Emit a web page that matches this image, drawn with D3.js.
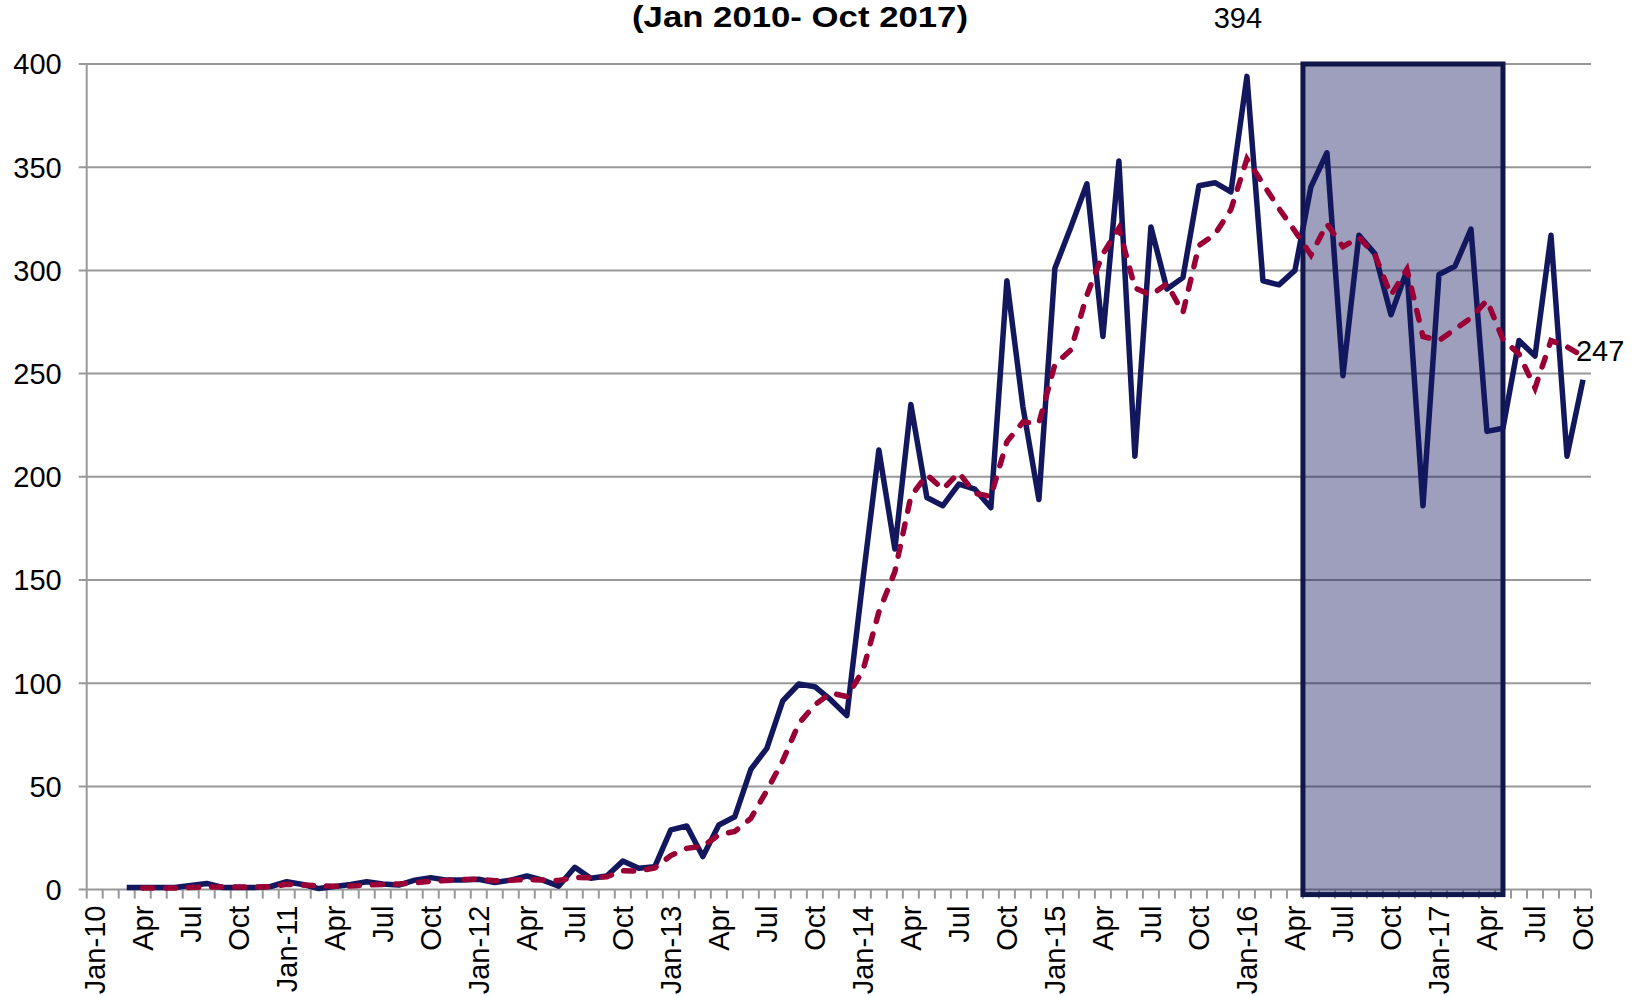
<!DOCTYPE html>
<html>
<head>
<meta charset="utf-8">
<script src="https://cdn.jsdelivr.net/npm/d3@7"></script>
<style>
  body { margin: 0; background: #fff; }
  svg text { font-family: "Liberation Sans", Arial, sans-serif; fill: #000; }
</style>
</head>
<body>
<svg id="vis" width="1638" height="997"></svg>
<script>
// Categorias: un mes por categoria, Jan-10 .. Oct-17
const months = d3.timeMonth.range(new Date(2010, 0, 1), new Date(2017, 10, 1));
const fmtKey = d3.timeFormat("%b-%y");
const categories = months.map(fmtKey);

const titleText = "(Jan 2010- Oct 2017)";

// Serie mensual (linea azul), empieza en Mar-10
const monthlyStart = "Mar-10";
const monthly = [
  1, 1, 1, 1, 2, 3, 1, 1, 1, 1.5,                                   // 2010 (Mar-Dec)
  3.8, 2.5, 0.5, 1.5, 2.5, 3.8, 2.7, 2.2, 4.6, 5.8, 4.6, 4.6,       // 2011
  5, 3.4, 4.6, 6.6, 4.6, 1.7, 10.8, 5.5, 6.6, 13.8, 10.3, 11.1,     // 2012
  28.9, 30.8, 16, 31.3, 35.3, 58.3, 68.4, 91.5, 99.6, 98.3, 91.9, 84.3, // 2013
  150, 213, 165, 235, 190, 186, 196.5, 194, 185, 295, 234, 189,     // 2014
  301, 321, 342, 268, 353, 210, 321, 291, 296.5, 341, 342.5, 338,   // 2015
  394, 295, 293, 300, 340.5, 357, 249, 317, 308, 278.5, 300, 186,   // 2016
  298, 302, 320, 222, 223.5, 266, 258.5, 317, 210, 247              // 2017 (Jan-Oct)
];

// Media movil (linea roja punteada), empieza en Apr-10
const avgStart = "Apr-10";
const movingAvg = [
  0.8, 0.8, 0.8, 1, 1.3, 1.3, 1.3, 1.3, 1.4,                        // 2010 (Apr-Dec)
  2.6, 2.2, 1.8, 1.6, 1.7, 2.2, 2.5, 2.7, 3.3, 4, 4.4, 4.9,         // 2011
  5, 4.3, 4.5, 4.9, 4.7, 4.4, 5.9, 5.7, 6.2, 9.2, 9, 10.5,          // 2012
  16.5, 20, 21, 26.5, 28.2, 34.5, 48, 62.5, 80.5, 89.5, 95.3, 93.5, // 2013
  106, 134.5, 154, 190.5, 201, 194, 202, 192, 190.5, 217, 226.5, 226, // 2014
  254.5, 261.5, 288, 308, 320.5, 291.5, 288, 293.5, 279.5, 312, 317.5, 329.5, // 2015
  354, 342, 330, 319, 307.5, 322.5, 311.5, 316, 307.5, 288, 300.5, 268, // 2016
  266, 271.5, 277, 285.5, 266.5, 259.5, 243, 266, 263, 258.5        // 2017
];

const yTicks = [0, 50, 100, 150, 200, 250, 300, 350, 400];
const highlightFrom = "May-16";
const highlightTo = "May-17";
const callouts = ["Jan-16", "Oct-17"];

// ---- escalas
const SVG = d3.select("#vis");
const plotLeft = 86.7, plotRight = 1591, plotTop = 64, plotBottom = 889.6;

const x = d3.scaleBand().domain(categories).range([plotLeft, plotRight]).padding(0);
const bw = x.bandwidth();
const cx = k => x(k) + bw / 2;
const y = d3.scaleLinear().domain([0, 400]).range([plotBottom, plotTop]);

const toPoints = (start, vals) => {
  const i0 = categories.indexOf(start);
  return vals.map((v, i) => ({ k: categories[i0 + i], v }));
};
const bluePts = toPoints(monthlyStart, monthly);
const redPts = toPoints(avgStart, movingAvg);

// ---- titulo
SVG.append("text")
  .attr("x", 800).attr("y", 27)
  .attr("text-anchor", "middle")
  .attr("font-size", 30).attr("font-weight", "bold")
  .attr("textLength", 336).attr("lengthAdjust", "spacingAndGlyphs")
  .text(titleText);

// ---- grilla y eje Y
SVG.append("g")
  .selectAll("line")
  .data(yTicks)
  .join("line")
  .attr("x1", plotLeft - 8).attr("x2", plotRight)
  .attr("y1", d => y(d)).attr("y2", d => y(d))
  .attr("stroke", "#999").attr("stroke-width", 2);

SVG.append("line")
  .attr("x1", plotLeft).attr("x2", plotLeft)
  .attr("y1", plotTop).attr("y2", plotBottom)
  .attr("stroke", "#999").attr("stroke-width", 2);

SVG.append("g")
  .selectAll("text")
  .data(yTicks)
  .join("text")
  .attr("x", plotLeft - 25).attr("y", d => y(d))
  .attr("dy", "0.36em")
  .attr("text-anchor", "end")
  .attr("font-size", 29)
  .text(d => d);

// ---- eje X: marcas en los bordes de cada mes
SVG.append("g")
  .selectAll("line")
  .data(categories.concat(["end"]))
  .join("line")
  .attr("x1", (d, i) => plotLeft + i * bw).attr("x2", (d, i) => plotLeft + i * bw)
  .attr("y1", plotBottom).attr("y2", plotBottom + 9)
  .attr("stroke", "#999").attr("stroke-width", 2);

const labelFmt = d => d.getMonth() === 0 ? fmtKey(d) : d3.timeFormat("%b")(d);
SVG.append("g")
  .selectAll("text")
  .data(months.filter((d, i) => i % 3 === 0))
  .join("text")
  .attr("transform", d => `translate(${cx(fmtKey(d))},${plotBottom + 16}) rotate(-90)`)
  .attr("dy", "0.36em")
  .attr("text-anchor", "end")
  .attr("font-size", 29)
  .text(labelFmt);

// ---- rectangulo destacado
const hx0 = x(highlightFrom);
const hx1 = cx(highlightTo);
SVG.append("rect")
  .attr("x", hx0).attr("y", y(400))
  .attr("width", hx1 - hx0).attr("height", y(0) + 5 - y(400))
  .attr("fill", "#12175e").attr("fill-opacity", 0.41)
  .attr("stroke", "#10154a").attr("stroke-width", 5);

// ---- lineas
const line = d3.line().x(d => cx(d.k)).y(d => y(d.v));

SVG.append("path")
  .datum(bluePts)
  .attr("d", line)
  .attr("fill", "none")
  .attr("stroke", "#12175e")
  .attr("stroke-width", 5.5)
  .attr("stroke-linejoin", "round");

SVG.append("path")
  .datum(redPts)
  .attr("d", line)
  .attr("fill", "none")
  .attr("stroke", "#9a0036")
  .attr("stroke-width", 5.5)
  .attr("stroke-linecap", "round")
  .attr("stroke-dasharray", "10,13");

// ---- etiquetas de datos
const byKey = new Map(bluePts.map(d => [d.k, d.v]));
SVG.append("text")
  .attr("x", cx(callouts[0]) - 9).attr("y", y(byKey.get(callouts[0])) - 48)
  .attr("text-anchor", "middle").attr("font-size", 29)
  .text(byKey.get(callouts[0]));
SVG.append("text")
  .attr("x", cx(callouts[1]) - 7).attr("y", y(byKey.get(callouts[1])) - 19)
  .attr("text-anchor", "start").attr("font-size", 29)
  .text(byKey.get(callouts[1]));
</script>
</body>
</html>
